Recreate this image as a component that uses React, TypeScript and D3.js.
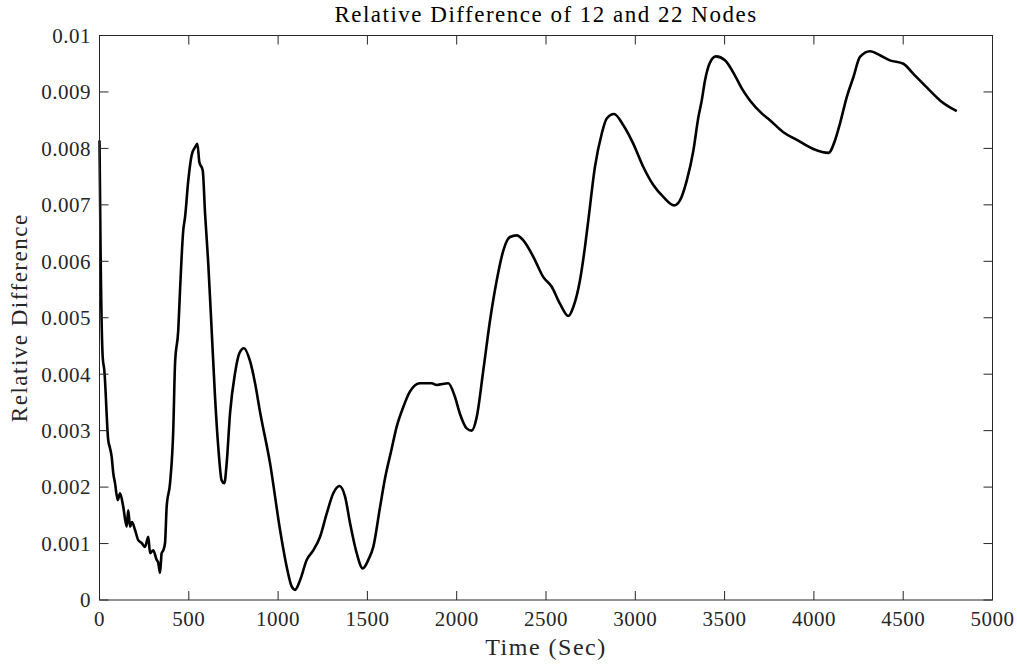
import React, { useRef, useEffect } from 'react';
import * as d3 from 'd3';

// time samples (sec)
const timeSec = [
  0, 6, 18, 27, 49, 59, 68, 77, 87, 102, 115, 133, 152, 161, 171, 182, 199, 217, 236, 255,
  273, 283, 301, 320, 328, 339, 348, 357, 367, 376, 395, 413, 423, 441, 451, 469, 479, 497,
  516, 535, 548, 559, 578, 591, 609, 628, 647, 665, 684, 699, 712, 731, 759, 783, 809, 843,
  871, 899, 955, 1011, 1048, 1076, 1095, 1123, 1160, 1197, 1235, 1272, 1309, 1343, 1375,
  1403, 1440, 1474, 1505, 1533, 1571, 1599, 1636, 1664, 1701, 1738, 1794, 1860, 1888, 1953,
  1990, 2018, 2056, 2084, 2112, 2149, 2187, 2224, 2261, 2298, 2336, 2373, 2429, 2485, 2532,
  2578, 2625, 2653, 2690, 2718, 2737, 2774, 2812, 2840, 2881, 2933, 2989, 3045, 3101, 3157,
  3217, 3250, 3288, 3325, 3353, 3372, 3390, 3418, 3452, 3502, 3558, 3597, 3642, 3708, 3754,
  3827, 3905, 3997, 4081, 4118, 4146, 4184, 4221, 4258, 4314, 4370, 4426, 4501, 4557, 4632,
  4706, 4800,
];

// relative difference at each sample
const relDiff = [
  0.00814, 0.00619, 0.00430, 0.00407, 0.00283, 0.00269, 0.00254, 0.00225, 0.00207, 0.00177,
  0.00189, 0.00165, 0.00130, 0.00159, 0.00130, 0.00138, 0.00124, 0.00106, 0.00101, 0.00094,
  0.00112, 0.00083, 0.00088, 0.00071, 0.00067, 0.00048, 0.00083, 0.00088, 0.00101, 0.00165,
  0.00207, 0.00301, 0.00419, 0.00478, 0.00549, 0.00655, 0.00678, 0.00743, 0.00788, 0.00802,
  0.00808, 0.00776, 0.00761, 0.00685, 0.00596, 0.00478, 0.00359, 0.00271, 0.00212, 0.00207,
  0.00242, 0.00331, 0.00402, 0.00437, 0.00446, 0.00423, 0.00384, 0.00333, 0.00242, 0.00124,
  0.00059, 0.00024, 0.00018, 0.00035, 0.00071, 0.00088, 0.00112, 0.00153, 0.00189, 0.00202,
  0.00183, 0.00136, 0.00083, 0.00056, 0.00071, 0.00094, 0.00165, 0.00216, 0.00268, 0.00307,
  0.00342, 0.00369, 0.00384, 0.00384, 0.00381, 0.00384, 0.00360, 0.00330, 0.00304, 0.00300,
  0.00324, 0.00407, 0.00496, 0.00566, 0.00619, 0.00643, 0.00646, 0.00637, 0.00608, 0.00572,
  0.00555, 0.00525, 0.00503, 0.00519, 0.00566, 0.00625, 0.00673, 0.00767, 0.00826, 0.00853,
  0.00861, 0.00841, 0.00808, 0.00767, 0.00735, 0.00714, 0.00699, 0.00708, 0.00743, 0.00796,
  0.00855, 0.00885, 0.00920, 0.00952, 0.00963, 0.00956, 0.00929, 0.00906, 0.00885, 0.00862,
  0.00850, 0.00829, 0.00815, 0.00799, 0.00792, 0.00814, 0.00844, 0.00891, 0.00926, 0.00962,
  0.00972, 0.00965, 0.00956, 0.00950, 0.00932, 0.00908, 0.00885, 0.00866,
];

const xTicks = [0, 500, 1000, 1500, 2000, 2500, 3000, 3500, 4000, 4500, 5000];
const yTicks = [0, 0.001, 0.002, 0.003, 0.004, 0.005, 0.006, 0.007, 0.008, 0.009, 0.01];

const FONT = '"Liberation Serif", "DejaVu Serif", serif';

export default function App() {
  const ref = useRef<SVGSVGElement>(null);

  useEffect(() => {
    const svg = d3.select(ref.current);
    svg.selectAll('*').remove();

    const left = 99.5, right = 992.5, top = 35.5, bottom = 600;
    const x = d3.scaleLinear().domain([0, 5000]).range([left, right]);
    const y = d3.scaleLinear().domain([0, 0.01]).range([bottom, top]);
    const axisColor = '#262626';
    const tickLen = 9;

    svg.append('rect').attr('width', 1017).attr('height', 664).attr('fill', '#fff');

    // data line
    const pts = timeSec.map((t, i) => [t, relDiff[i]] as [number, number]);
    svg.append('path')
      .datum(pts)
      .attr('fill', 'none')
      .attr('stroke', '#000')
      .attr('stroke-width', 2.6)
      .attr('stroke-linejoin', 'round')
      .attr('d', d3.line<[number, number]>().curve(d3.curveMonotoneX).x(d => x(d[0])).y(d => y(d[1])));

    // box
    svg.append('rect')
      .attr('x', left).attr('y', top)
      .attr('width', right - left).attr('height', bottom - top)
      .attr('fill', 'none').attr('stroke', axisColor).attr('stroke-width', 1);

    // ticks (inside, all sides)
    const g = svg.append('g').attr('stroke', axisColor).attr('stroke-width', 1);
    xTicks.forEach(t => {
      g.append('line').attr('x1', x(t)).attr('x2', x(t)).attr('y1', bottom).attr('y2', bottom - tickLen);
      g.append('line').attr('x1', x(t)).attr('x2', x(t)).attr('y1', top).attr('y2', top + tickLen);
    });
    yTicks.forEach(v => {
      g.append('line').attr('x1', left).attr('x2', left + tickLen).attr('y1', y(v)).attr('y2', y(v));
      g.append('line').attr('x1', right).attr('x2', right - tickLen).attr('y1', y(v)).attr('y2', y(v));
    });

    // tick labels
    svg.append('g').selectAll('text').data(xTicks).enter().append('text')
      .attr('x', d => x(d)).attr('y', 626)
      .attr('text-anchor', 'middle')
      .attr('font-family', FONT).attr('font-size', 21).attr('letter-spacing', 0.5).attr('fill', '#262626')
      .text(d => String(d));

    svg.append('g').selectAll('text').data(yTicks).enter().append('text')
      .attr('x', 91).attr('y', d => y(d)).attr('dy', '0.35em')
      .attr('text-anchor', 'end')
      .attr('font-family', FONT).attr('font-size', 21).attr('letter-spacing', 0.5).attr('fill', '#262626')
      .text(d => (d === 0 ? '0' : String(+d.toFixed(3))));

    // labels
    svg.append('text')
      .attr('x', (left + right) / 2).attr('y', 655)
      .attr('text-anchor', 'middle')
      .attr('font-family', FONT).attr('font-size', 24).attr('letter-spacing', 1.5).attr('fill', '#262626')
      .text('Time (Sec)');

    svg.append('text')
      .attr('transform', `translate(27,${(top + bottom) / 2}) rotate(-90)`)
      .attr('text-anchor', 'middle')
      .attr('font-family', FONT).attr('font-size', 23).attr('letter-spacing', 1.5).attr('fill', '#262626')
      .text('Relative Difference');

    svg.append('text')
      .attr('x', (left + right) / 2).attr('y', 22)
      .attr('text-anchor', 'middle')
      .attr('font-family', FONT).attr('font-size', 23).attr('letter-spacing', 1.5).attr('fill', '#000')
      .text('Relative Difference of 12 and 22 Nodes');
  }, []);

  return <svg ref={ref} width={1017} height={664} style={{ position: 'absolute', left: 0, top: 0 }}></svg>;
}
